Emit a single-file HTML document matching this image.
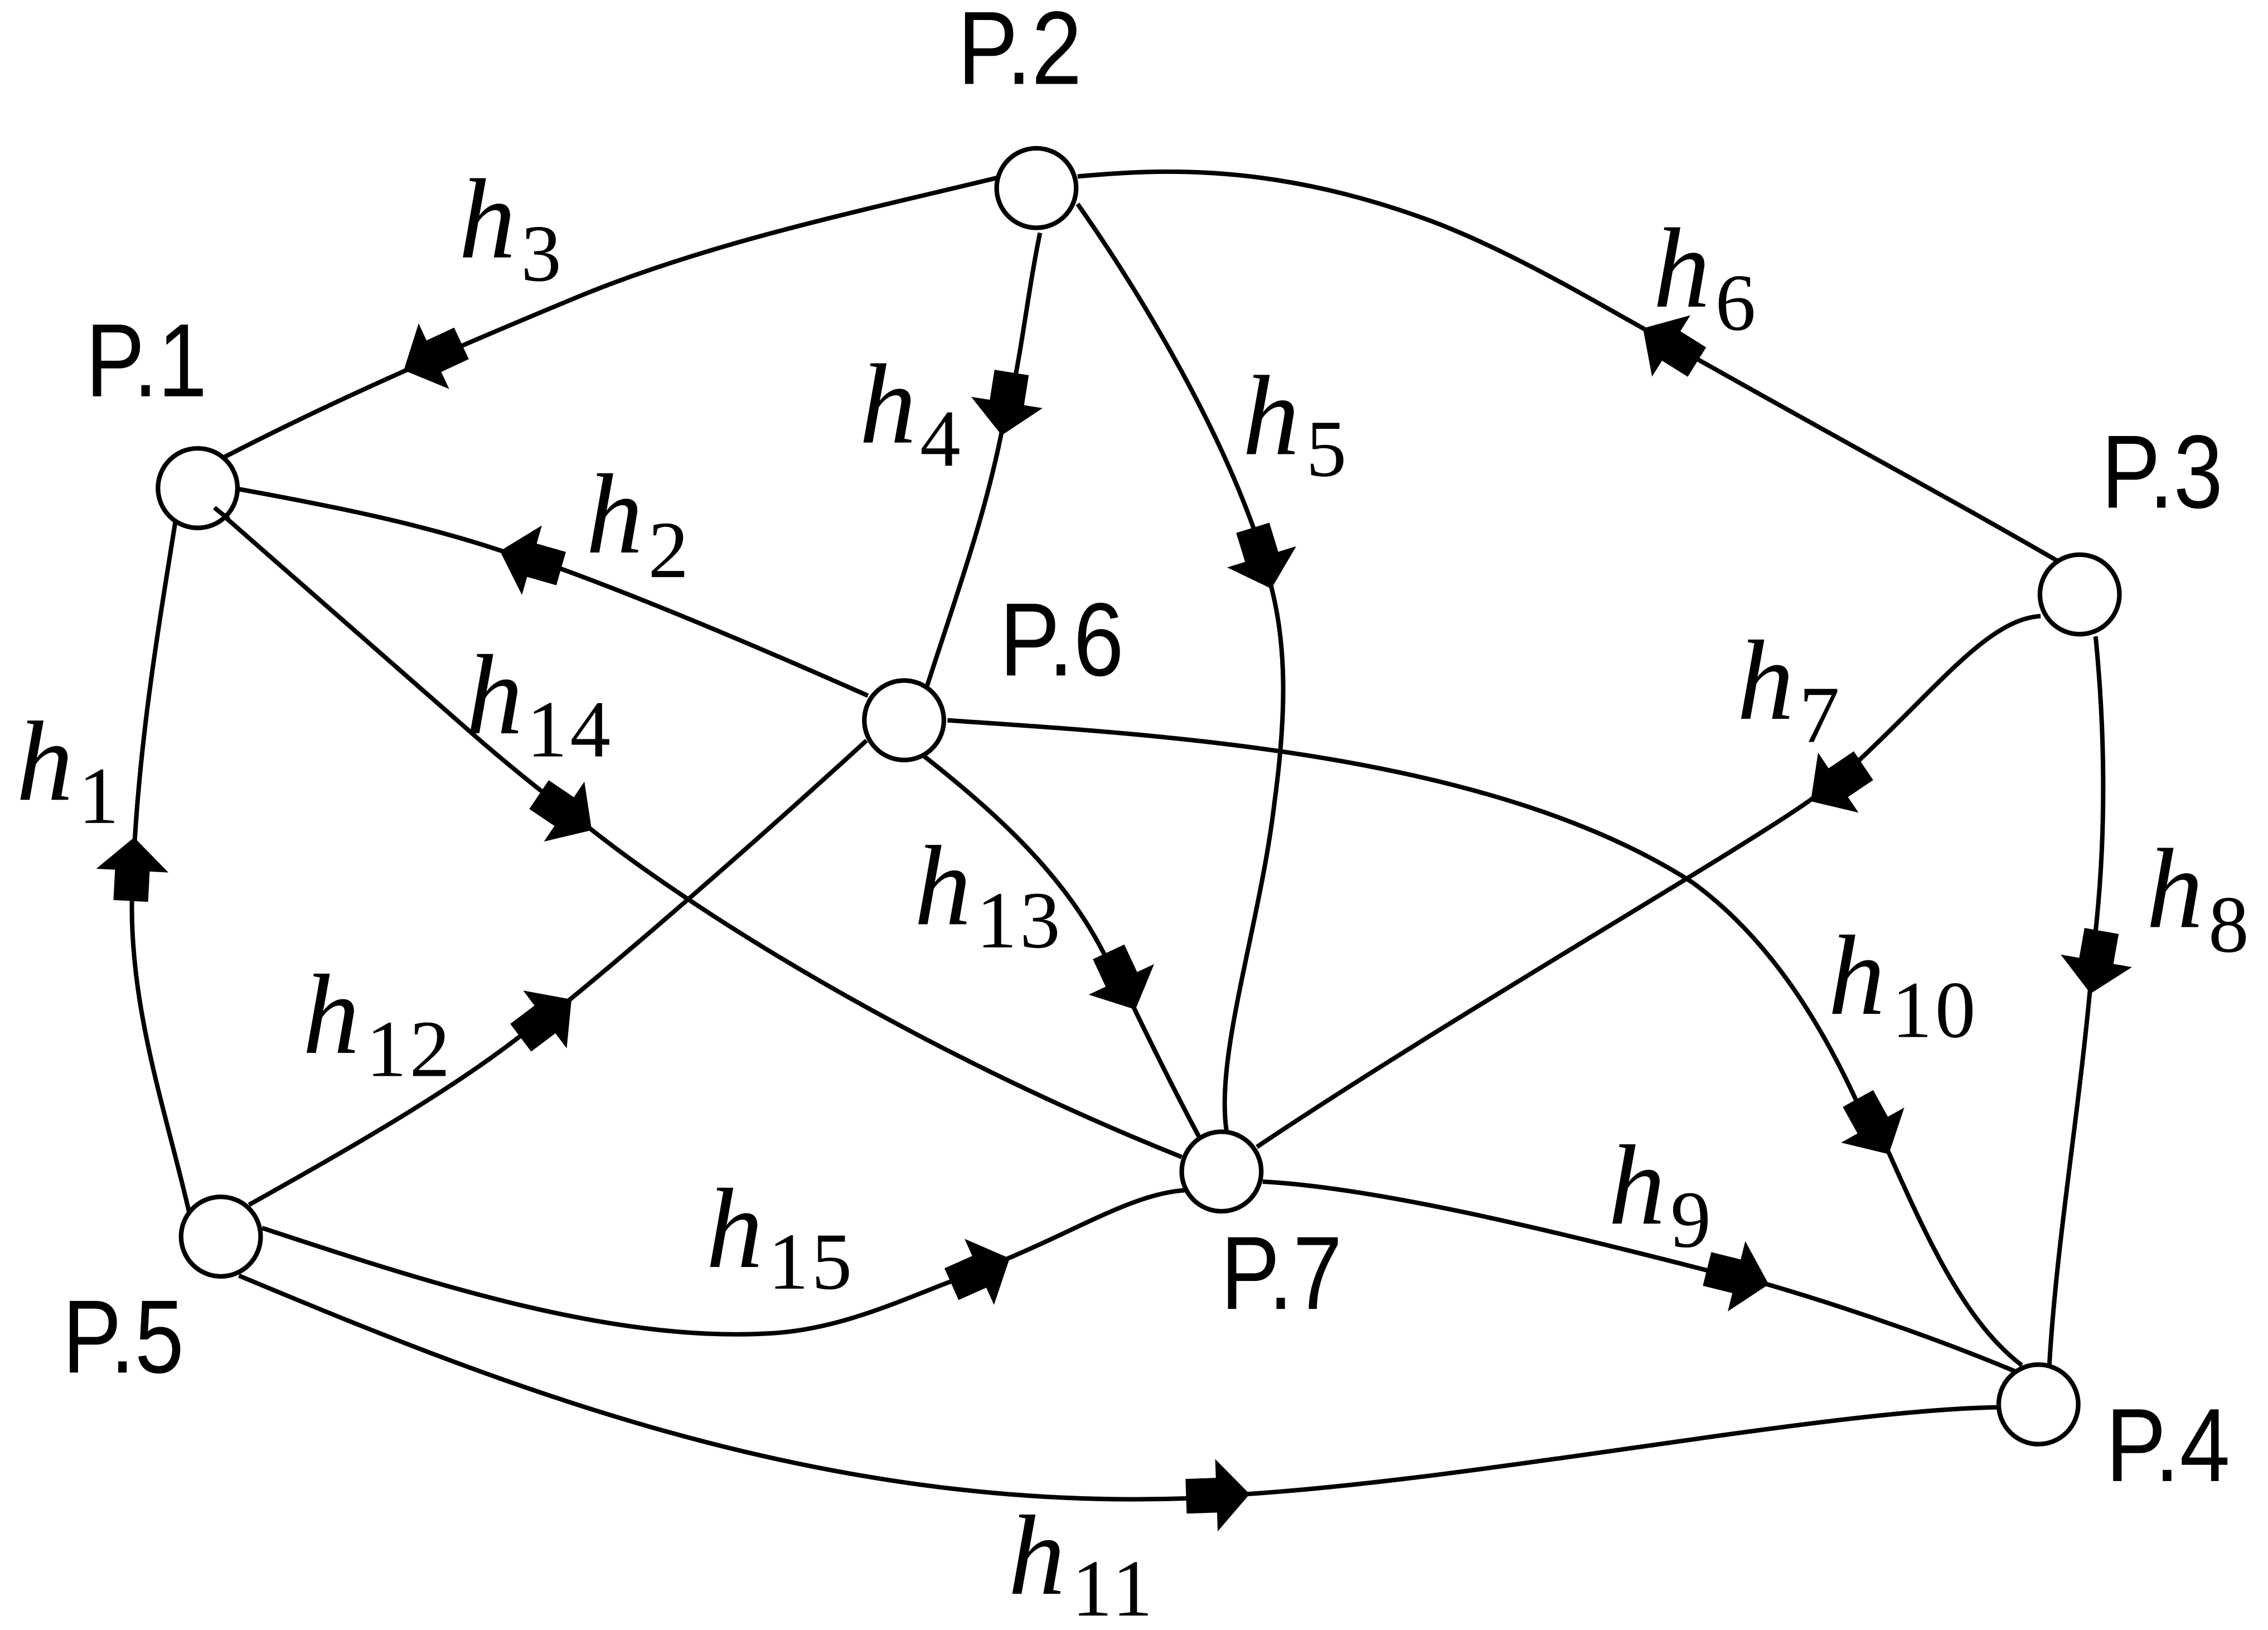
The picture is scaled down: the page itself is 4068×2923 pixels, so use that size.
<!DOCTYPE html>
<html><head><meta charset="utf-8"><style>
html,body{margin:0;padding:0;background:#fff}
svg{display:block}
.p{font-family:"Liberation Sans",sans-serif;font-size:72px;fill:#000}
.h{font-family:"Liberation Serif",serif;font-style:italic;font-size:79px;fill:#000}
.s{font-family:"Liberation Serif",serif;font-size:56px;letter-spacing:2px;fill:#000}
</style></head><body>
<svg xmlns="http://www.w3.org/2000/svg" width="4068" height="2923" viewBox="0 0 1568 1127">
<rect width="1568" height="1127" fill="#fff"/>
<g fill="none" stroke="#000" stroke-width="3.1">
<path d="M689,123 C590,147 490,168 400,205 C330,234 240,272 155,316"/>
<path d="M745,122 C800,117 880,112 990,153 C1040,172 1090,201 1136,227 C1250,292 1340,340 1423,388"/>
<path d="M719,161 C712,195 707,235 702,260 L692,301 C680,360 660,415 641,474"/>
<path d="M745,141 C785,198 838,285 867,366 L879,406 C889,445 890,490 881,556 C871,640 840,730 848,782"/>
<path d="M600,481 C530,450 450,416 387,393 L347,381 C290,362 230,350 164,338"/>
<path d="M148,351 C210,405 270,458 325,506 C350,528 380,552 408,573 C480,630 630,725 817,800"/>
<path d="M121,361 C110,430 98,500 93,580 L91,623 C90,700 115,770 131,840"/>
<path d="M172,833 C240,795 310,755 360,716 L394,691 C450,645 530,575 599,512"/>
<path d="M181,849 C290,885 420,928 530,922 C580,920 625,898 660,885 L697,870 C745,850 785,825 819,823"/>
<path d="M165,882 C340,955 560,1045 820,1036 L862,1033 C1030,1022 1260,975 1382,973"/>
<path d="M873,817 C950,821 1070,850 1179,878 L1222,888 C1290,908 1350,930 1393,948"/>
<path d="M655,498 C800,508 1030,520 1170,610 C1225,650 1260,710 1284,762 L1306,797 C1335,862 1360,915 1398,944"/>
<path d="M639,523 C690,563 735,605 762,657 L784,697 C800,730 815,760 829,786"/>
<path d="M1411,426 C1375,428 1340,475 1284,527 L1252,553 C1200,590 1000,705 869,793"/>
<path d="M1449,440 C1456,510 1456,580 1449,644 L1445,686 C1436,780 1422,860 1417,944"/>
</g>
<g fill="#000">
<polygon points="0,0 -23,25 -23,12 -44,12 -44,-12 -23,-12 -23,-25" transform="translate(279,256) rotate(155)"/>
<polygon points="0,0 -23,25 -23,12 -44,12 -44,-12 -23,-12 -23,-25" transform="translate(692.5,301) rotate(99)"/>
<polygon points="0,0 -23,25 -23,12 -44,12 -44,-12 -23,-12 -23,-25" transform="translate(345.5,381) rotate(196)"/>
<polygon points="0,0 -23,25 -23,12 -44,12 -44,-12 -23,-12 -23,-25" transform="translate(409,574) rotate(34)"/>
<polygon points="0,0 -23,25 -23,12 -44,12 -44,-12 -23,-12 -23,-25" transform="translate(92.5,579) rotate(-87)"/>
<polygon points="0,0 -23,25 -23,12 -44,12 -44,-12 -23,-12 -23,-25" transform="translate(879,407) rotate(73)"/>
<polygon points="0,0 -23,25 -23,12 -44,12 -44,-12 -23,-12 -23,-25" transform="translate(1136,227) rotate(212)"/>
<polygon points="0,0 -23,25 -23,12 -44,12 -44,-12 -23,-12 -23,-25" transform="translate(1252,554) rotate(146)"/>
<polygon points="0,0 -23,25 -23,12 -44,12 -44,-12 -23,-12 -23,-25" transform="translate(1445.5,687) rotate(100)"/>
<polygon points="0,0 -23,25 -23,12 -44,12 -44,-12 -23,-12 -23,-25" transform="translate(1306,798) rotate(61)"/>
<polygon points="0,0 -23,25 -23,12 -44,12 -44,-12 -23,-12 -23,-25" transform="translate(1223,888) rotate(14)"/>
<polygon points="0,0 -23,25 -23,12 -44,12 -44,-12 -23,-12 -23,-25" transform="translate(698,870) rotate(-24)"/>
<polygon points="0,0 -23,25 -23,12 -44,12 -44,-12 -23,-12 -23,-25" transform="translate(395,691) rotate(-37)"/>
<polygon points="0,0 -23,25 -23,12 -44,12 -44,-12 -23,-12 -23,-25" transform="translate(785,698) rotate(65)"/>
<polygon points="0,0 -23,25 -23,12 -44,12 -44,-12 -23,-12 -23,-25" transform="translate(864,1033) rotate(-2)"/>
</g>
<g fill="#fff" stroke="#000" stroke-width="3.2">
<circle cx="136.5" cy="337.5" r="27.5"/>
<circle cx="716.5" cy="130" r="27.5"/>
<circle cx="1438" cy="411" r="27.5"/>
<circle cx="1409.5" cy="971" r="27.5"/>
<circle cx="152.5" cy="855" r="27.5"/>
<circle cx="625" cy="498" r="27.5"/>
<circle cx="844.5" cy="810" r="27.5"/>
</g>
<path d="M148,351 L158,359" fill="none" stroke="#000" stroke-width="3.1"/>
<text class="p" x="59" y="274" textLength="84" lengthAdjust="spacingAndGlyphs">P.1</text>
<text class="p" x="662" y="58" textLength="86" lengthAdjust="spacingAndGlyphs">P.2</text>
<text class="p" x="1453" y="351" textLength="84" lengthAdjust="spacingAndGlyphs">P.3</text>
<text class="p" x="1456" y="1024" textLength="86" lengthAdjust="spacingAndGlyphs">P.4</text>
<text class="p" x="43" y="949" textLength="84" lengthAdjust="spacingAndGlyphs">P.5</text>
<text class="p" x="691" y="467" textLength="86" lengthAdjust="spacingAndGlyphs">P.6</text>
<text class="p" x="844" y="905" textLength="84" lengthAdjust="spacingAndGlyphs">P.7</text>

<text class="h" x="11" y="553">h</text><text class="s" x="54" y="569">1</text>
<text class="h" x="405" y="382">h</text><text class="s" x="448" y="399">2</text>
<text class="h" x="317" y="178">h</text><text class="s" x="360" y="194">3</text>
<text class="h" x="594" y="306">h</text><text class="s" x="636" y="322">4</text>
<text class="h" x="859" y="314">h</text><text class="s" x="903" y="329">5</text>
<text class="h" x="1143" y="212">h</text><text class="s" x="1186" y="228">6</text>
<text class="h" x="1201" y="497">h</text><text class="s" x="1244" y="513">7</text>
<text class="h" x="1484" y="641">h</text><text class="s" x="1527" y="658">8</text>
<text class="h" x="1112" y="846">h</text><text class="s" x="1155" y="862">9</text>
<text class="h" x="1264" y="701">h</text><text class="s" x="1308" y="717">10</text>
<text class="h" x="697" y="1102">h</text><text class="s" x="741" y="1117">11</text>
<text class="h" x="209" y="728">h</text><text class="s" x="253" y="744">12</text>
<text class="h" x="632" y="639">h</text><text class="s" x="675" y="655">13</text>
<text class="h" x="322" y="507">h</text><text class="s" x="364" y="523">14</text>
<text class="h" x="488" y="876">h</text><text class="s" x="531" y="891">15</text>
</svg>
</body></html>
